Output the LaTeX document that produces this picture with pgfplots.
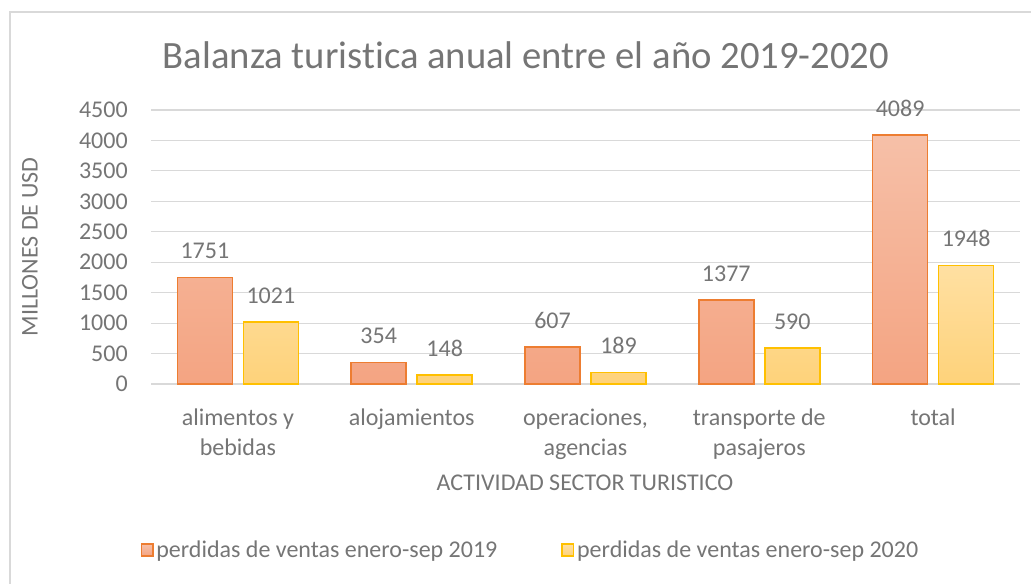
\documentclass[border=0pt]{standalone}
\usepackage{pgfplots}
\pgfplotsset{compat=1.18}
\usepackage{fontspec}
\setmainfont{Carlito}[Ligatures=NoCommon]
\definecolor{txt}{HTML}{757575}
\definecolor{gridc}{HTML}{D9D9D9}
\definecolor{orB}{HTML}{ED7D31}
\definecolor{orT}{HTML}{F6C0A8}
\definecolor{orBt}{HTML}{F4A482}
\definecolor{yeB}{HTML}{FFC000}
\definecolor{yeT}{HTML}{FFE0A2}
\definecolor{yeBt}{HTML}{FED27A}
\newcommand{\fs}{\fontsize{18}{22.5}\selectfont}
\begin{document}
\begin{tikzpicture}[x=0.75pt,y=-0.75pt]
\useasboundingbox (0,0) rectangle (1031,583);
\draw[gridc, line width=0.9pt] (10,1000) -- (10,12) -- (1200,12);
\node[text=txt, font=\fontsize{29}{34}\selectfont, anchor=base] at (526,68) {Balanza turistica anual entre el año 2019-2020};
\node[text=txt, font=\fs, rotate=90] at (30,247) {MILLONES DE USD};
\node[text=txt, font=\fs] at (585,483) {ACTIVIDAD SECTOR TURISTICO};
\begin{axis}[
  at={(113.25pt,-288pt)}, anchor=south west,
  scale only axis, width=651.75pt, height=205.5pt,
  ymin=0, ymax=4500, ytick={0,500,...,4500},
  xmin=-0.5, xmax=4.5, xtick={0,1,2,3,4},
  xticklabels={{alimentos y\\bebidas},alojamientos,{operaciones,\\agencias},{transporte de\\pasajeros},total},
  /pgf/number format/.cd, 1000 sep={}, assume math mode=true, /pgfplots/.cd,
  ybar=8.25pt, bar width=41.25pt,
  axis line style={draw=none},
  major tick length=0pt,
  ymajorgrids, grid style={gridc, line width=0.9pt},
  tick label style={text=txt, font=\fs},
  yticklabel style={inner sep=0pt, xshift=-17.25pt},
  xticklabel style={align=center, inner sep=0pt, anchor=north, yshift=-18.25pt},
  nodes near coords,
  every node near coord/.append style={font=\fs, text=txt, anchor=base, inner sep=0pt, yshift=14pt},
  legend columns=2,
  legend style={at={(0.437,-0.606)}, anchor=center, draw=none, fill=none, font=\fs, text=txt,
    /tikz/every even column/.append style={column sep=46pt},
    nodes={inner sep=2pt}},
  legend image code/.code={\draw[#1] (0pt,-4.5pt) rectangle (8.5pt,4.5pt);},
]
\addplot[draw=orB, line width=1.3pt, top color=orT, bottom color=orBt] coordinates {(0,1751) (1,354) (2,607) (3,1377) (4,4089)};
\addplot[draw=yeB, line width=1.3pt, top color=yeT, bottom color=yeBt] coordinates {(0,1021) (1,148) (2,189) (3,590) (4,1948)};
\legend{perdidas de ventas enero-sep 2019, perdidas de ventas enero-sep 2020}
\end{axis}
\end{tikzpicture}
\end{document}
